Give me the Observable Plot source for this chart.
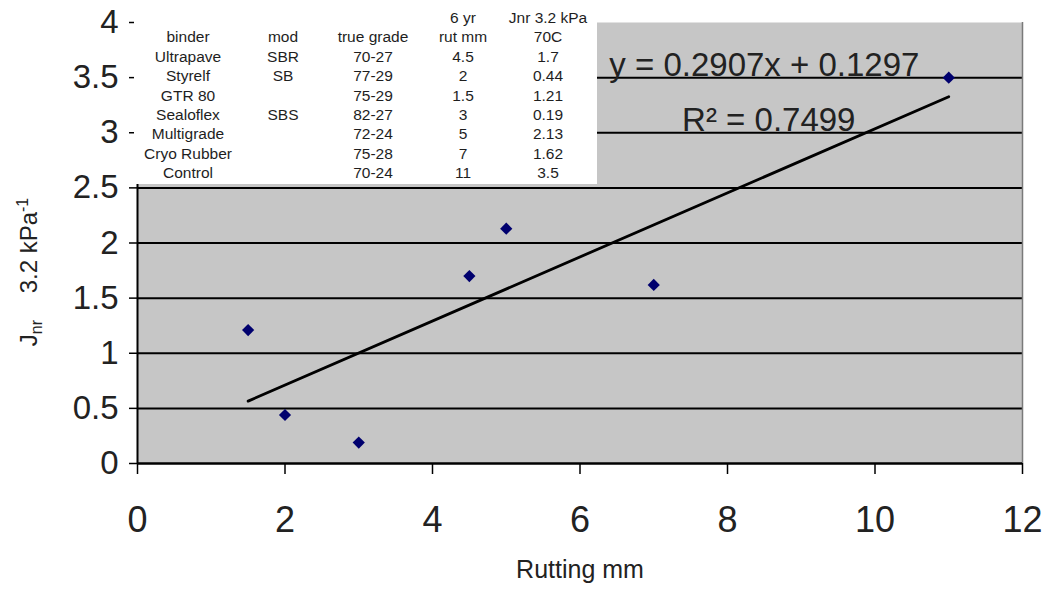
<!DOCTYPE html>
<html>
<head>
<meta charset="utf-8">
<script src="https://cdn.jsdelivr.net/npm/d3@7"></script>
<script src="https://cdn.jsdelivr.net/npm/@observablehq/plot@0.6"></script>
<style>
  body { margin: 0; background: #fff; }
  #wrap { position: relative; width: 1051px; height: 592px; font-family: "Liberation Sans", Arial, sans-serif; overflow: hidden; }
  #tbl { position: absolute; left: 134px; top: 0; width: 463px; height: 184px; background: #fff; }
  #tbl table { border-collapse: collapse; table-layout: fixed; margin-top: 8px; font-size: 15.5px; color: #1e1e1e; }
  #tbl td { height: 19.4px; padding: 0; text-align: center; line-height: 19.4px; white-space: nowrap; }
  #ylab { position: absolute; left: 30px; top: 272px; transform: translate(-50%, -50%) rotate(-90deg); font-size: 24px; white-space: pre; color: #222; }
  #ylab sub, #ylab sup { font-size: 16px; }
</style>
</head>
<body>
<div id="wrap"></div>
<script>
// ---- data ----
const binders = ["Ultrapave", "Styrelf", "GTR 80", "Sealoflex", "Multigrade", "Cryo Rubber", "Control"];
const mods = ["SBR", "SB", "", "SBS", "", "", ""];
const grades = ["70-27", "77-29", "75-29", "82-27", "72-24", "75-28", "70-24"];
const rutting = [4.5, 2, 1.5, 3, 5, 7, 11];          // 6 yr rut mm
const jnr = [1.7, 0.44, 1.21, 0.19, 2.13, 1.62, 3.5]; // Jnr 3.2 kPa 70C
const headerTop = ["", "", "", "6 yr", "Jnr 3.2 kPa"];
const headerBottom = ["binder", "mod", "true grade", "rut mm", "70C"];
const xTicks = [0, 2, 4, 6, 8, 10, 12];
const yTicks = [0, 0.5, 1, 1.5, 2, 2.5, 3, 3.5, 4];
const gridLines = [0.5, 1, 1.5, 2, 2.5, 3, 3.5];
const trendLabels = [
  {x: 8.5, y: 3.61, text: "y = 0.2907x + 0.1297"},
  {x: 8.56, y: 3.11, text: "R² = 0.7499"}
];

const points = rutting.map((r, i) => ({rut: r, jnr: jnr[i]}));

const plot = Plot.plot({
  width: 1051,
  height: 592,
  marginLeft: 137,
  marginRight: 29,
  marginTop: 22,
  marginBottom: 129,
  style: {fontFamily: "'Liberation Sans', Arial, sans-serif", background: "#fff", color: "#222"},
  x: {domain: [0, 12]},
  y: {domain: [0, 4]},
  marks: [
    Plot.frame({fill: "#c6c6c6", stroke: null}),
    Plot.ruleY(gridLines, {stroke: "#000", strokeWidth: 2}),
    Plot.ruleX([12], {stroke: "#7a7a7a", strokeWidth: 1.5}),
    Plot.ruleX([0], {stroke: "#000", strokeWidth: 2}),
    Plot.ruleY([0], {stroke: "#000", strokeWidth: 2.5}),
    Plot.axisY({ticks: yTicks, tickFormat: d => String(d), tickSize: 8, tickPadding: 11, fontSize: 33, label: null, stroke: "#000", strokeWidth: 1.5}),
    Plot.axisX({ticks: xTicks, tickFormat: d => String(d), tickSize: 11, tickPadding: 32, fontSize: 36, label: null, stroke: "#000", strokeWidth: 1.5}),
    Plot.linearRegressionY(points, {x: "rut", y: "jnr", ci: 0, stroke: "#000", strokeWidth: 2.8}),
    Plot.dot(points, {x: "rut", y: "jnr", symbol: "diamond2", r: 5.5, fill: "#00006e", stroke: null}),
    Plot.text(trendLabels, {x: "x", y: "y", text: "text", fontSize: 33, fill: "#222"}),
    Plot.text(["Rutting mm"], {frameAnchor: "bottom", dy: 114, fontSize: 25, fill: "#222"})
  ]
});

const wrap = document.getElementById("wrap");
wrap.appendChild(plot);

// data table overlay (as in the original chart)
const tblDiv = document.createElement("div");
tblDiv.id = "tbl";
const table = document.createElement("table");
const colWidths = [108, 82, 98, 82, 88];
const colgroup = document.createElement("colgroup");
colWidths.forEach(w => { const c = document.createElement("col"); c.style.width = w + "px"; colgroup.appendChild(c); });
table.appendChild(colgroup);
const rows = [headerTop, headerBottom, ...binders.map((b, i) => [b, mods[i], grades[i], String(rutting[i]), String(jnr[i])])];
rows.forEach(r => {
  const tr = document.createElement("tr");
  r.forEach(v => { const td = document.createElement("td"); td.textContent = v; tr.appendChild(td); });
  table.appendChild(tr);
});
tblDiv.appendChild(table);
wrap.appendChild(tblDiv);

// y axis title with subscript/superscript
const ylab = document.createElement("div");
ylab.id = "ylab";
ylab.innerHTML = "J<sub>nr</sub>    3.2 kPa<sup>-1</sup>";
wrap.appendChild(ylab);
</script>
</body>
</html>
